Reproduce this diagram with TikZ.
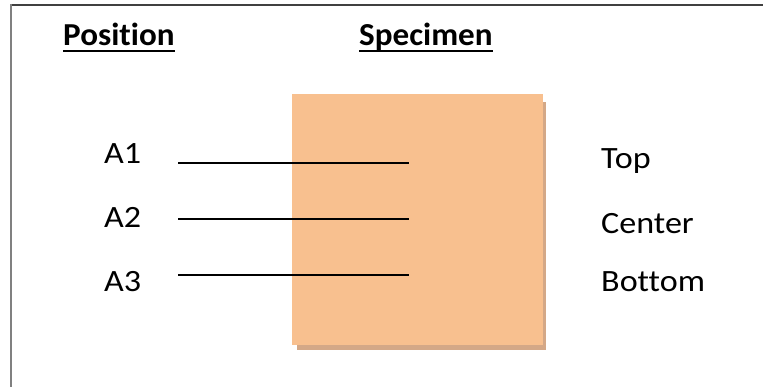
\documentclass[tikz,border=0pt]{standalone}
\usepackage{fontspec}
\setmainfont{Carlito}[Ligatures=NoCommon]
\newfontfamily\lblfont{Carlito}[Ligatures=NoCommon,FakeStretch=1.1]
\newfontfamily\headfont{Carlito}[Ligatures=NoCommon,FakeStretch=1.035]
\begin{document}
\begin{tikzpicture}[x=1pt,y=-1pt,
  lbl/.style={anchor=base west,inner sep=0pt,font=\lblfont\fontsize{31}{36}\selectfont},
  head/.style={anchor=base west,inner sep=0pt,font=\headfont\fontsize{32}{36}\selectfont\bfseries},
  conn/.style={line width=2pt,black}]
\useasboundingbox (0,0) rectangle (763,387);
\fill[white] (0,0) rectangle (763,387);
% frame
\draw[line width=2pt,black!75] (11,5) -- (763,5);
\draw[line width=2.5pt,black!50] (11,4) -- (11,387);
% specimen block with shadow
\fill[fill={rgb,255:red,212;green,168;blue,135}] (297,102) rectangle (546,350);
\fill[fill={rgb,255:red,248;green,192;blue,143}] (292,94) rectangle (543,345);
% headings
\node[head] (pos) at (63,46) {Position};
\node[head] (spec) at (359,46) {Specimen};
\draw[line width=2pt] ([yshift=-5pt]pos.base west) -- ([yshift=-5pt]pos.base east);
\draw[line width=2pt] ([yshift=-5pt]spec.base west) -- ([yshift=-5pt]spec.base east);
% left labels
\node[lbl] (a1) at (104,164) {A1};
\node[lbl] (a2) at (104,228) {A2};
\node[lbl] (a3) at (104,292) {A3};
% right labels
\node[lbl] (top) at (601,169) {Top};
\node[lbl] (cen) at (601,234) {Center};
\node[lbl] (bot) at (601,292) {Bottom};
% connector lines
\coordinate (l1s) at (178,163); \coordinate (l1e) at (409,163);
\coordinate (l2s) at (178,219); \coordinate (l2e) at (409,219);
\coordinate (l3s) at (178,275); \coordinate (l3e) at (409,275);
\draw[conn] (l1s) -- (l1e);
\draw[conn] (l2s) -- (l2e);
\draw[conn] (l3s) -- (l3e);
\end{tikzpicture}
\end{document}
